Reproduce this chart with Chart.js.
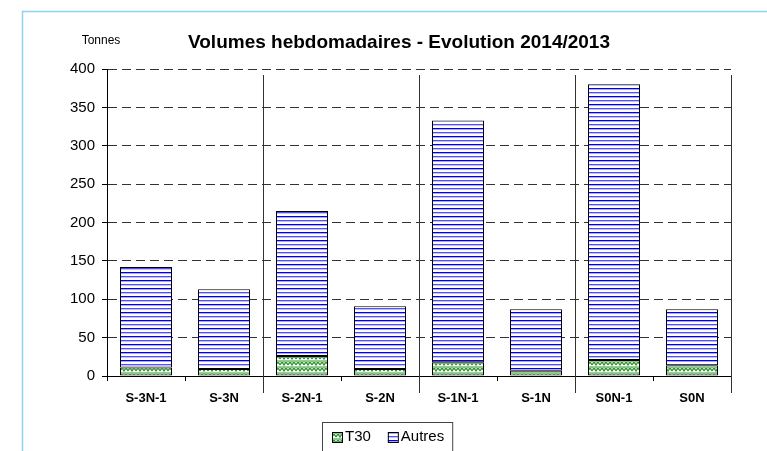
<!DOCTYPE html>
<html>
<head>
<meta charset="utf-8">
<script src="https://cdn.jsdelivr.net/npm/chart.js@4/dist/chart.umd.min.js"></script>
<style>
  html, body { margin: 0; padding: 0; background: #fff; }
  canvas { display: block; }
</style>
</head>
<body>
<canvas id="chart" width="767" height="451"></canvas>
<script>
// Weekly volumes, tonnes
const categories = ['S-3N-1', 'S-3N', 'S-2N-1', 'S-2N', 'S-1N-1', 'S-1N', 'S0N-1', 'S0N'];
const t30Values = [11, 9, 26, 9, 18, 7, 21, 14];
const autresValues = [131, 104, 189, 82, 315, 80, 359, 73];
const yMin = 0;
const yMax = 400;
const yStep = 50;

const FONT = 'Arial, "Liberation Sans", sans-serif';

// horizontal blue stripes
function makeStripePattern() {
    const c = document.createElement('canvas');
    c.width = 8; c.height = 8;
    const g = c.getContext('2d');
    g.fillStyle = '#ffffff';
    g.fillRect(0, 0, 8, 8);
    g.fillStyle = '#0000ee';
    g.fillRect(0, 0, 8, 1);
    g.fillStyle = '#a8a8ff';
    g.fillRect(0, 1, 8, 1);
    g.fillStyle = '#5050ff';
    g.fillRect(0, 4, 8, 1);
    g.fillStyle = '#c0c0ff';
    g.fillRect(0, 5, 8, 1);
    return g.createPattern(c, 'repeat');
}

// green zigzag weave
function makeWeavePattern() {
    const c = document.createElement('canvas');
    c.width = 8; c.height = 6;
    const g = c.getContext('2d');
    g.fillStyle = '#ffffff';
    g.fillRect(0, 0, 8, 6);
    g.strokeStyle = '#2e8f2e';
    g.lineWidth = 1.3;
    g.beginPath();
    g.moveTo(0, 5); g.lineTo(2, 2); g.lineTo(4, 5); g.lineTo(6, 2); g.lineTo(8, 5);
    g.stroke();
    g.strokeStyle = '#78c078';
    g.beginPath();
    g.moveTo(0, 2); g.lineTo(2, -1); g.lineTo(4, 2); g.lineTo(6, -1); g.lineTo(8, 2);
    g.stroke();
    return g.createPattern(c, 'repeat');
}

const extras = {
    id: 'extras',
    beforeDraw(chart) {
        const ctx = chart.ctx;
        ctx.save();
        // light blue frame
        ctx.strokeStyle = '#8ed2f0';
        ctx.lineWidth = 1.5;
        ctx.beginPath();
        ctx.moveTo(22.5, 451);
        ctx.lineTo(22.5, 11.5);
        ctx.lineTo(767, 11.5);
        ctx.stroke();
        // unit label
        ctx.fillStyle = '#000';
        ctx.font = '12px ' + FONT;
        ctx.textAlign = 'center';
        ctx.textBaseline = 'middle';
        ctx.fillText('Tonnes', 101, 41);
        ctx.restore();
    },
    afterDraw(chart) {
        const ctx = chart.ctx;
        const x = chart.scales.x;
        const y = chart.scales.y;
        ctx.save();
        // separators between week groups
        ctx.strokeStyle = '#333';
        ctx.lineWidth = 1;
        const half = (x.getPixelForValue(1) - x.getPixelForValue(0)) / 2;
        for (let i = 1; i < categories.length; i += 2) {
            const px = Math.round(x.getPixelForValue(i) + half) + 0.5;
            ctx.beginPath();
            ctx.moveTo(px, y.getPixelForValue(yMax) + 6);
            ctx.lineTo(px, y.bottom + 17);
            ctx.stroke();
        }

        // legend
        const sets = chart.data.datasets;
        ctx.font = '15px ' + FONT;
        ctx.textBaseline = 'middle';
        ctx.textAlign = 'left';
        let lx = 332;
        const ly = 437;
        const start = lx - 10;
        sets.forEach((ds, i) => {
            ctx.fillStyle = ds.backgroundColor;
            ctx.fillRect(lx, ly - 5, 10, 10);
            ctx.strokeStyle = '#000';
            ctx.strokeRect(lx + 0.5, ly - 4.5, 10, 10);
            ctx.fillStyle = '#000';
            ctx.fillText(ds.label, lx + 13, ly);
            lx += 13 + ctx.measureText(ds.label).width + (i < sets.length - 1 ? 17 : 8);
        });
        ctx.strokeStyle = '#444';
        ctx.strokeRect(start + 0.5, 422.5, lx - start, 40);
        ctx.restore();
    }
};

const ctx = document.getElementById('chart').getContext('2d');
new Chart(ctx, {
    type: 'bar',
    data: {
        labels: categories,
        datasets: [{
            label: 'T30',
            data: t30Values,
            backgroundColor: makeWeavePattern(),
            borderColor: '#000',
            borderWidth: 1,
            borderSkipped: false,
            inflateAmount: 0,
            barThickness: 52
        }, {
            label: 'Autres',
            data: autresValues,
            backgroundColor: makeStripePattern(),
            borderColor: '#000',
            borderWidth: 1,
            borderSkipped: false,
            inflateAmount: 0,
            barThickness: 52
        }]
    },
    options: {
        responsive: false,
        animation: false,
        devicePixelRatio: 1,
        layout: {
            padding: { left: 67, right: 36, top: 20, bottom: 35 }
        },
        scales: {
            x: {
                stacked: true,
                afterFit: s => { s.height = 40; },
                grid: {
                    display: true,
                    drawOnChartArea: false,
                    drawTicks: true,
                    tickLength: 5,
                    offset: true,
                    color: '#000'
                },
                border: { display: true, color: '#000', width: 1 },
                ticks: {
                    color: '#000',
                    padding: 10,
                    maxRotation: 0,
                    font: { family: FONT, size: 13, weight: 'bold' }
                }
            },
            y: {
                stacked: true,
                min: yMin,
                max: yMax,
                afterFit: s => { s.width = 40; },
                grid: {
                    color: '#333',
                    tickColor: '#000',
                    tickLength: 5,
                    tickBorderDash: []
                },
                border: { display: true, color: '#000', width: 1, dash: [9, 5] },
                ticks: {
                    stepSize: yStep,
                    color: '#000',
                    padding: 7,
                    font: { family: FONT, size: 15 }
                }
            }
        },
        plugins: {
            legend: { display: false },
            tooltip: { enabled: false },
            title: {
                display: true,
                text: 'Volumes hebdomadaires - Evolution 2014/2013',
                color: '#000',
                font: { family: FONT, size: 19, weight: 'bold' },
                padding: { top: 11, bottom: 15.2 }
            }
        }
    },
    plugins: [extras]
});
</script>
</body>
</html>
